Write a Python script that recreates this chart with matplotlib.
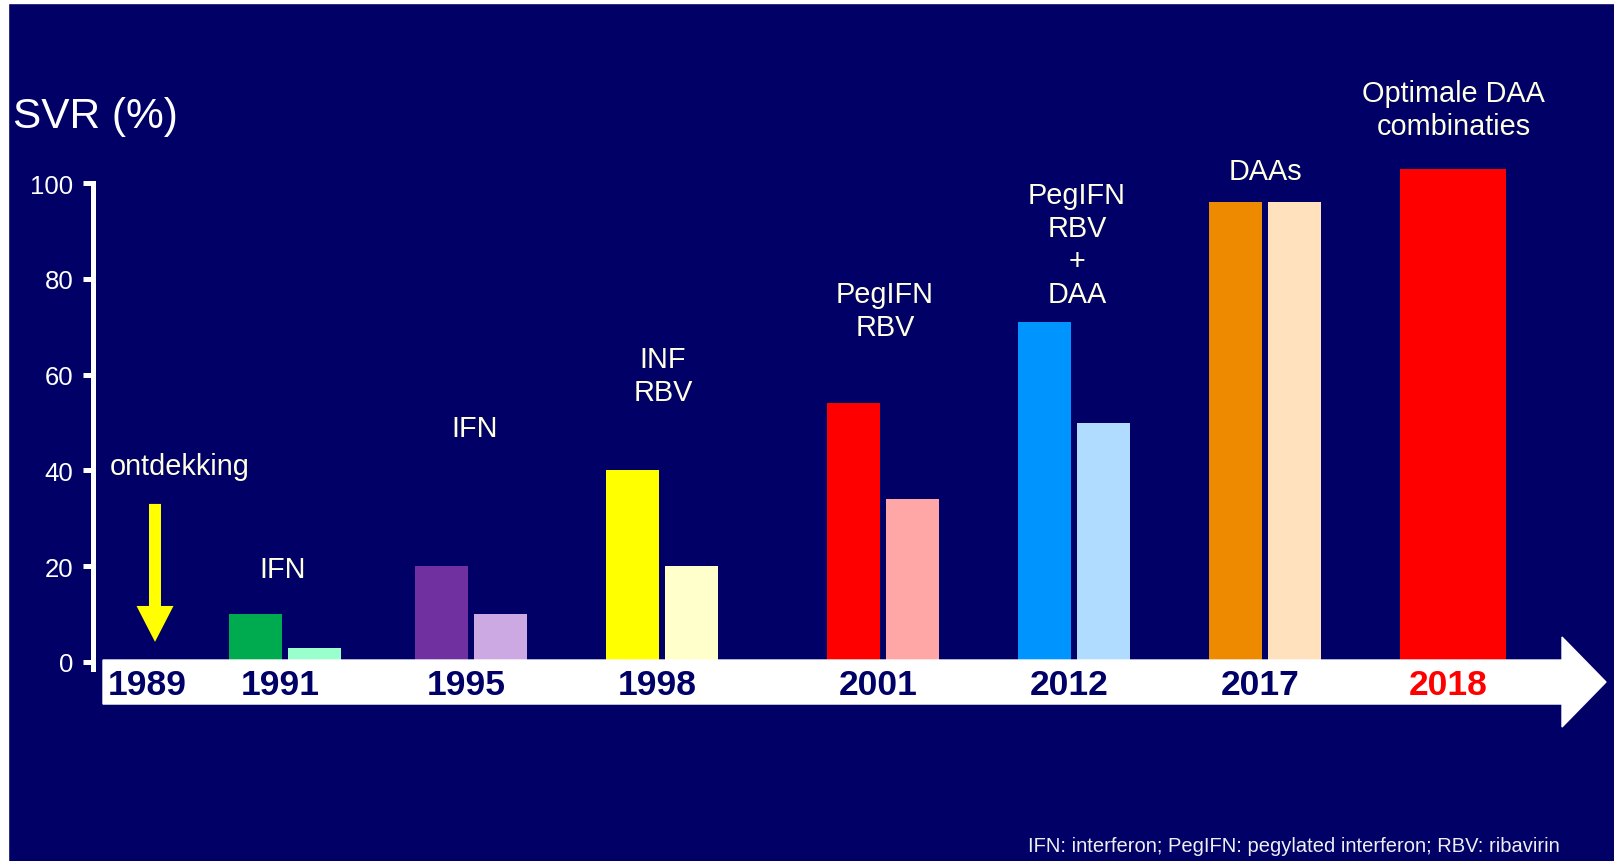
"""SVR-percentages bij hepatitis C-behandeling door de jaren heen."""

import matplotlib

matplotlib.use("Agg")

import matplotlib.pyplot as plt
from matplotlib.patches import FancyArrow, Rectangle

# --- data ---------------------------------------------------------------
jaren = ["1989", "1991", "1995", "1998", "2001", "2012", "2017", "2018"]
svr_hoog = [None, 10, 20, 40, 54, 71, 96, 103]
svr_laag = [None, 3, 10, 20, 34, 50, 96, None]
labels = ["ontdekking", "IFN", "IFN", "INF\nRBV", "PegIFN\nRBV",
          "PegIFN\nRBV\n+\nDAA", "DAAs", "Optimale DAA\ncombinaties"]
kleur_hoog = [None, "#00AA4E", "#7030A0", "#FFFF00", "#FF0000",
              "#0094FF", "#EE8A00", "#FF0000"]
kleur_laag = [None, "#99FFCC", "#CCA9E2", "#FFFFCC", "#FFA6A6",
              "#B0DCFF", "#FFE1BE", None]
voetnoot = "IFN: interferon; PegIFN: pegylated interferon; RBV: ribavirin"

# --- opmaak -------------------------------------------------------------
W, H, DPI = 1615, 862, 100
NUL_PX = 663          # pixelrij van SVR = 0
PX_PER_PCT = 4.79
ACHTERGROND = "#000066"
TEKST = "#FFFFE2"
groep_x = [152, 285, 471.5, 662, 883, 1074, 1265.5, 1453.5]
label_y = [40.9, 19.4, 48.9, 59.8, 73.3, 87.1, 102.5, 115.4]
label_dx = [28, -2, 3, 1, 2, 3, 0, 0]
BREEDTE = 53
HALF = 29.5

plt.rcParams["font.family"] = ["Liberation Sans", "DejaVu Sans"]


def maak_grafiek() -> None:
    fig = plt.figure(figsize=(W / DPI, H / DPI), dpi=DPI)
    ax = fig.add_axes([0, 0, 1, 1])
    ax.set_facecolor(ACHTERGROND)
    ax.set_xlim(0, W)
    ax.set_ylim(-(H - NUL_PX) / PX_PER_PCT, NUL_PX / PX_PER_PCT)

    for kant in ["top", "right", "bottom"]:
        ax.spines[kant].set_visible(False)
    ax.spines["left"].set_position(("data", 93))
    ax.spines["left"].set_bounds(-1.5, 100)
    ax.spines["left"].set_color("white")
    ax.spines["left"].set_linewidth(3.6)
    ax.set_xticks([])
    ax.set_yticks(range(0, 101, 20))
    ax.tick_params(axis="y", direction="out", length=7.2, width=3.6,
                   color="white", labelcolor="white", labelsize=18.5, pad=7)

    # staven
    for x, hoog, laag, kh, kl in zip(groep_x, svr_hoog, svr_laag, kleur_hoog, kleur_laag):
        if hoog is None:
            continue
        if laag is None:
            ax.bar(x, hoog, width=2 * BREEDTE, color=kh, zorder=2)
        else:
            ax.bar(x - HALF, hoog, width=BREEDTE, color=kh, zorder=2)
            ax.bar(x + HALF, laag, width=BREEDTE, color=kl, zorder=2)

    # witte tijdlijn-pijl
    ax.add_patch(FancyArrow(103, -4.18, 1503, 0, width=9.19, head_width=18.8,
                            head_length=44, length_includes_head=True,
                            color="white", zorder=3))

    # gele pijl bij de ontdekking
    ax.add_patch(FancyArrow(groep_x[0] + 3, 33.0, 0, -28.8, width=12, head_width=37,
                            head_length=7.5, length_includes_head=True,
                            color="#FFFF00", linewidth=0, zorder=2))

    for x, jaar in zip(groep_x, jaren):
        kleur = "#FF0000" if jaar == "2018" else ACHTERGROND
        ax.text(x - 5, -4.6, jaar, ha="center", va="center", fontsize=25.5,
                fontweight="bold", color=kleur, zorder=4)

    for x, dx, y, tekst in zip(groep_x, label_dx, label_y, labels):
        ax.text(x + dx, y, tekst, ha="center", va="center", fontsize=20.8,
                color=TEKST, linespacing=1.23, zorder=4)

    ax.text(13, (NUL_PX - 117) / PX_PER_PCT, "SVR (%)", ha="left", va="center",
            fontsize=30.5, color="white")
    ax.text(1560, (NUL_PX - 847) / PX_PER_PCT, voetnoot, ha="right", va="center",
            fontsize=14.5, color="#EEEEF4")

    # witte randen links en boven
    fig.add_artist(Rectangle((0, 0), 8 / W, 1, transform=fig.transFigure,
                             color="white", zorder=5))
    fig.add_artist(Rectangle((0, 1 - 4 / H), 1, 4 / H, transform=fig.transFigure,
                             color="white", zorder=5))

    fig.savefig("out.png", dpi=DPI, facecolor=ACHTERGROND)
    plt.close(fig)


if __name__ == "__main__":
    maak_grafiek()
